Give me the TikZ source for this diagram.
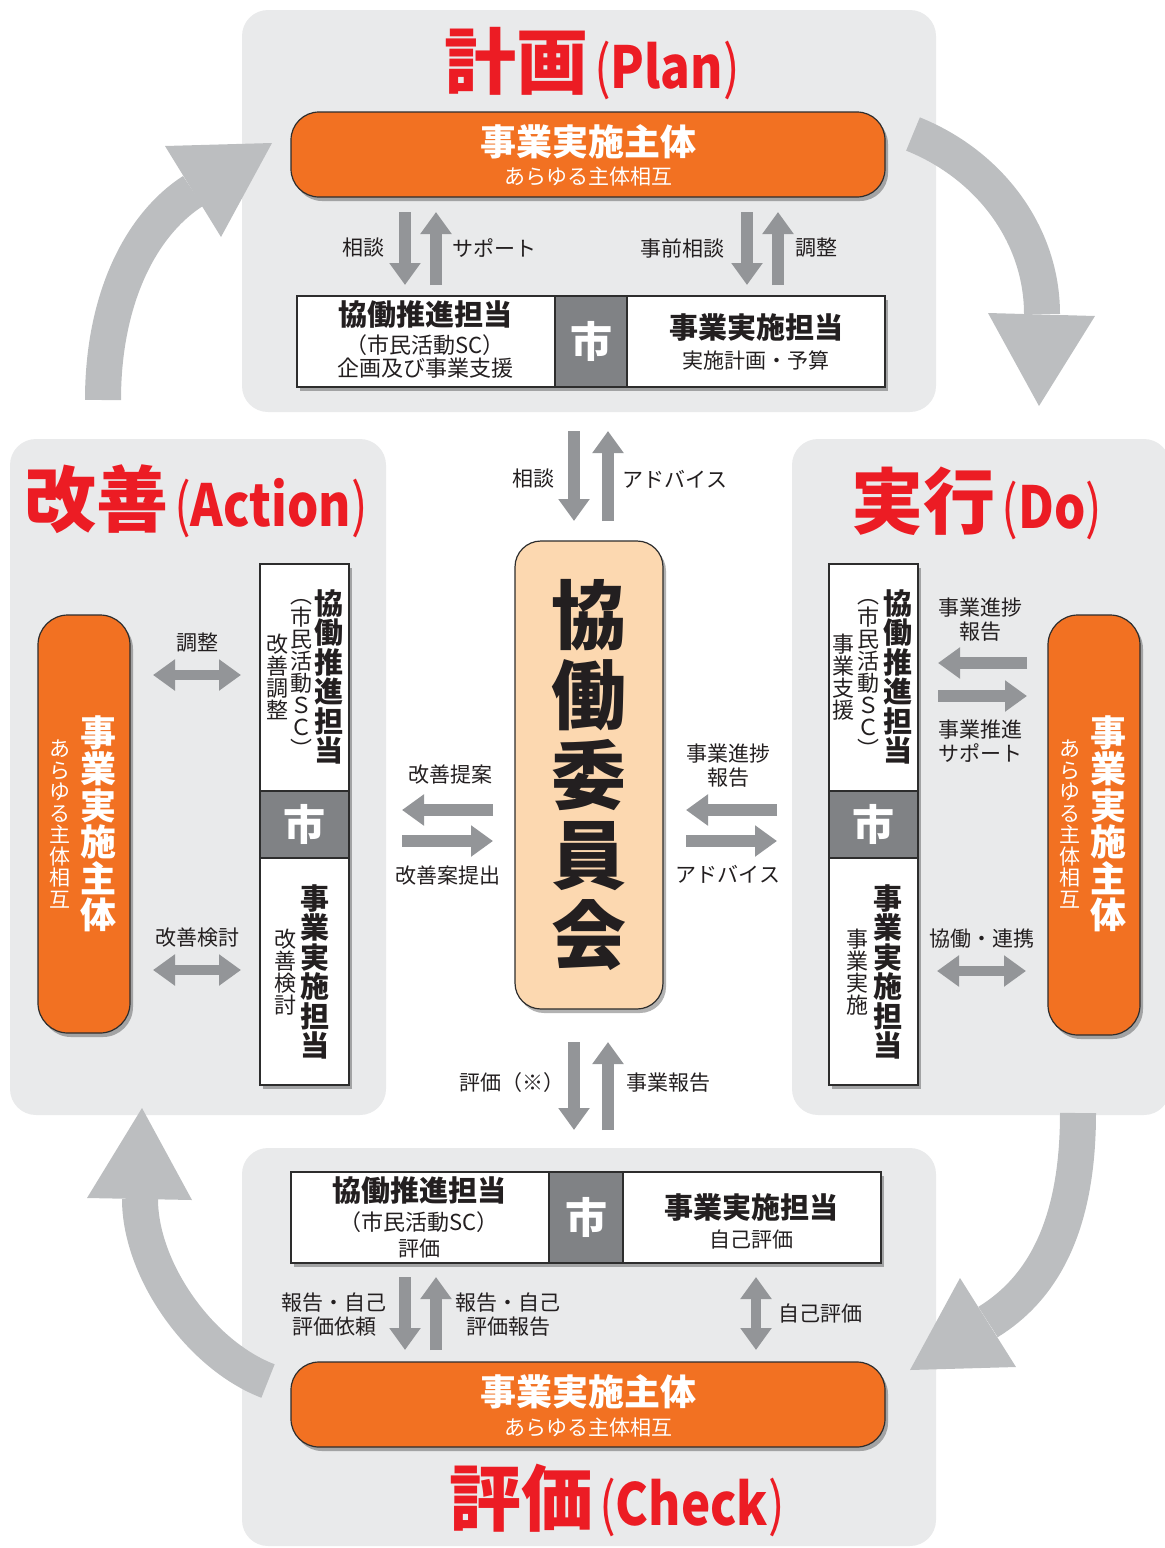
\documentclass[tikz,border=0pt]{standalone}
\usepackage{fontspec}
\setmainfont{Noto Sans CJK JP}
\usetikzlibrary{arrows.meta,shadows}
\definecolor{panelgray}{RGB}{233,234,235}
\definecolor{bigarrowc}{RGB}{188,190,192}
\definecolor{smallarrowc}{RGB}{147,149,152}
\definecolor{orangebox}{RGB}{242,113,34}
\definecolor{citygray}{RGB}{128,130,133}
\definecolor{titlered}{RGB}{236,28,36}
\definecolor{peach}{RGB}{252,216,176}
\definecolor{ink}{RGB}{35,31,32}
\definecolor{edgec}{RGB}{45,45,45}
\newcommand{\fsz}[2]{\fontsize{#1}{#2}\selectfont}
\newcommand{\ttlatin}[1]{\hspace{6pt}{\fsz{58}{58}\scalebox{0.85}[1]{\mdseries(\bfseries #1\mdseries)}}}
\begin{document}
\begin{tikzpicture}[x=1pt,y=-1pt,
  panel/.style={fill=panelgray, draw=none, rounded corners=26pt},
  shadowed/.style={drop shadow={shadow xshift=3pt, shadow yshift=-4pt, opacity=0.3, fill=black}},
  obox/.style={shadowed, fill=orangebox, draw=edgec, line width=1.2pt, rounded corners=28pt, inner sep=0pt},
  wbox/.style={shadowed, fill=white, draw=edgec, line width=1.2pt, inner sep=0pt},
  cbox/.style={fill=citygray, draw=edgec, line width=1.2pt, inner sep=0pt, text=white, font=\bfseries\fsz{42}{42}},
  pbox/.style={shadowed, fill=peach, draw=edgec, line width=1.2pt, rounded corners=26pt, inner sep=0pt, align=center, font=\bfseries\fsz{75}{80}, text=ink},
  sarrow/.style={draw=smallarrowc, line width=12pt, -{Triangle[length=22pt,width=30pt]}},
  darrow/.style={draw=smallarrowc, line width=10pt, {Triangle[length=22pt,width=30pt]}-{Triangle[length=22pt,width=30pt]}},
  lbl/.style={text=ink, font=\fsz{21}{24}, align=center, inner sep=0pt},
  txt/.style={inner sep=0pt, align=center},
  vt/.style={inner sep=0pt, align=center},
  bigshaft/.style={draw=bigarrowc, line width=36pt},
  bighead/.style={fill=bigarrowc, draw=none},
  ttl/.style={text=titlered, font=\bfseries\fsz{72}{72}, anchor=base, inner sep=0pt}
]
\useasboundingbox (0,0) rectangle (1165,1548);
% panels
\fill[panel] (242,10) rectangle (936,412);
\fill[panel] (10,439) rectangle (386,1115);
\fill[panel] (792,439) rectangle (1170,1115);
\fill[panel] (242,1148) rectangle (936,1546);

% big cycle arrows
\draw[bigshaft] (103,400) .. controls (103,300) and (140,225) .. (193,191);
\fill[bighead] (165,146) -- (272,143) -- (221,237) -- cycle;
\draw[bigshaft] (913,134) .. controls (990,165) and (1042,235) .. (1042,314);
\fill[bighead] (988,313) -- (1095,316) -- (1039,406) -- cycle;
\draw[bigshaft] (1078,1113) .. controls (1078,1230) and (1040,1290) .. (988,1322);
\fill[bighead] (960,1278) -- (1016,1367) -- (910,1370) -- cycle;
\draw[bigshaft] (268,1381) .. controls (200,1355) and (140,1270) .. (140,1199);
\fill[bighead] (87,1198) -- (192,1200) -- (142,1108) -- cycle;

% titles
\node[ttl] (tPlan) at (592,88) {計画\ttlatin{Plan}};
\node[ttl] (tAct) at (196,526) {改善\ttlatin{Action}};
\node[ttl] (tDo) at (977,528) {実行\ttlatin{Do}};
\node[ttl] (tChk) at (617,1525) {評価\ttlatin{Check}};

% ---------- Plan ----------
\node[obox, minimum width=594pt, minimum height=85pt] (pOrg) at (588,154.5) {};
\node[txt, text=white, font=\bfseries\fsz{36}{36}] (pOrgA) at (588,142) {事業実施主体};
\node[txt, text=white, font=\fsz{21}{21}] (pOrgB) at (588,177) {あらゆる主体相互};
\node[wbox, minimum width=588pt, minimum height=91pt] (pW) at (591,341.5) {};
\node[cbox, minimum width=72pt, minimum height=91pt] (pCity) at (591,341.5) {市};
\node[txt, text=ink, font=\bfseries\fsz{29}{29}] (pW1) at (425,315) {協働推進担当};
\node[txt, text=ink, font=\fsz{22}{22}] (pW2) at (425,345) {（市民活動SC）};
\node[txt, text=ink, font=\fsz{22}{22}] (pW3) at (425,368) {企画及び事業支援};
\node[txt, text=ink, font=\bfseries\fsz{29}{29}] (pW4) at (756,328) {事業実施担当};
\node[txt, text=ink, font=\fsz{21}{21}] (pW5) at (756,360) {実施計画・予算};
\draw[sarrow] (405,212) -- (405,285);
\draw[sarrow] (436,285) -- (436,212);
\draw[sarrow] (747,212) -- (747,285);
\draw[sarrow] (778,285) -- (778,212);
\node[lbl] (pl1) at (363,248) {相談};
\node[lbl] (pl2) at (494,248) {サポート};
\node[lbl] (pl3) at (682,248) {事前相談};
\node[lbl] (pl4) at (816,248) {調整};

% ---------- Center ----------
\node[pbox, minimum width=148pt, minimum height=468pt] (ctr) at (589,775) {協\\働\\委\\員\\会};
\draw[sarrow] (574,431) -- (574,521);
\draw[sarrow] (608,521) -- (608,431);
\node[lbl] (cl1) at (533,479) {相談};
\node[lbl] (cl2) at (675,479) {アドバイス};
\draw[sarrow] (493,810) -- (402,810);
\draw[sarrow] (402,841) -- (493,841);
\node[lbl] (cl3) at (450,775) {改善提案};
\node[lbl] (cl4) at (448,876) {改善案提出};
\draw[sarrow] (777,810) -- (686,810);
\draw[sarrow] (686,841) -- (777,841);
\node[lbl] (cl5) at (728,766) {事業進捗\\報告};
\node[lbl] (cl6) at (728,874) {アドバイス};
\draw[sarrow] (574,1042) -- (574,1130);
\draw[sarrow] (608,1130) -- (608,1042);
\node[lbl] (cl7) at (512,1083) {評価（※）};
\node[lbl] (cl8) at (668,1083) {事業報告};

% ---------- Action ----------
\node[obox, rounded corners=30pt, minimum width=92pt, minimum height=418pt] (aOrg) at (84,824) {};
\node[vt, text=white, font=\bfseries\fsz{36}{36.5}] (aOrgA) at (98,824) {事\\業\\実\\施\\主\\体};
\node[vt, text=white, font=\fsz{21}{21.5}] (aOrgB) at (60,824) {あ\\ら\\ゆ\\る\\主\\体\\相\\互};
\node[wbox, minimum width=89pt, minimum height=521pt] (aW) at (304.5,824.5) {};
\node[cbox, minimum width=89pt, minimum height=67pt] (aCity) at (304.5,824.5) {市};
\node[vt, text=ink, font=\bfseries\fsz{29}{29.5}] (aW1) at (329,677) {協\\働\\推\\進\\担\\当};
\node[vt, text=ink, font=\fsz{22}{22}] (aW2) at (301,678) {︵\\市\\民\\活\\動\\Ｓ\\Ｃ\\︶};
\node[vt, text=ink, font=\fsz{22}{22}] (aW3) at (277,677) {改\\善\\調\\整};
\node[vt, text=ink, font=\bfseries\fsz{29}{29.5}] (aW4) at (315,972) {事\\業\\実\\施\\担\\当};
\node[vt, text=ink, font=\fsz{22}{22}] (aW5) at (285,972) {改\\善\\検\\討};
\draw[darrow] (153,675) -- (241,675);
\draw[darrow] (153,970) -- (241,970);
\node[lbl] (al1) at (197,643) {調整};
\node[lbl] (al2) at (197,938) {改善検討};

% ---------- Do ----------
\node[obox, rounded corners=30pt, minimum width=92pt, minimum height=420pt] (dOrg) at (1094,825) {};
\node[vt, text=white, font=\bfseries\fsz{36}{36.5}] (dOrgA) at (1108,824) {事\\業\\実\\施\\主\\体};
\node[vt, text=white, font=\fsz{21}{21.5}] (dOrgB) at (1070,824) {あ\\ら\\ゆ\\る\\主\\体\\相\\互};
\node[wbox, minimum width=89pt, minimum height=521pt] (dW) at (873.5,824.5) {};
\node[cbox, minimum width=89pt, minimum height=67pt] (dCity) at (873.5,824.5) {市};
\node[vt, text=ink, font=\bfseries\fsz{29}{29.5}] (dW1) at (898,677) {協\\働\\推\\進\\担\\当};
\node[vt, text=ink, font=\fsz{22}{22}] (dW2) at (868,678) {︵\\市\\民\\活\\動\\Ｓ\\Ｃ\\︶};
\node[vt, text=ink, font=\fsz{22}{22}] (dW3) at (843,677) {事\\業\\支\\援};
\node[vt, text=ink, font=\bfseries\fsz{29}{29.5}] (dW4) at (888,972) {事\\業\\実\\施\\担\\当};
\node[vt, text=ink, font=\fsz{22}{22}] (dW5) at (857,972) {事\\業\\実\\施};
\draw[sarrow] (1027,663) -- (938,663);
\draw[sarrow] (938,696) -- (1027,696);
\draw[darrow] (937,971) -- (1026,971);
\node[lbl] (dl1) at (980,620) {事業進捗\\報告};
\node[lbl] (dl2) at (980,741) {事業推進\\サポート};
\node[lbl] (dl3) at (982,939) {協働・連携};

% ---------- Check ----------
\node[wbox, minimum width=590pt, minimum height=91pt] (kW) at (586,1217.5) {};
\node[cbox, minimum width=74pt, minimum height=91pt] (kCity) at (586,1217.5) {市};
\node[txt, text=ink, font=\bfseries\fsz{29}{29}] (kW1) at (419,1190) {協働推進担当};
\node[txt, text=ink, font=\fsz{22}{22}] (kW2) at (419,1222) {（市民活動SC）};
\node[txt, text=ink, font=\fsz{21}{21}] (kW3) at (419,1249) {評価};
\node[txt, text=ink, font=\bfseries\fsz{29}{29}] (kW4) at (751,1207) {事業実施担当};
\node[txt, text=ink, font=\fsz{21}{21}] (kW5) at (751,1239) {自己評価};
\node[obox, minimum width=594pt, minimum height=85pt] (kOrg) at (588,1404.5) {};
\node[txt, text=white, font=\bfseries\fsz{36}{36}] (kOrgA) at (588,1392) {事業実施主体};
\node[txt, text=white, font=\fsz{21}{21}] (kOrgB) at (588,1427) {あらゆる主体相互};
\draw[sarrow] (405,1277) -- (405,1350);
\draw[sarrow] (436,1350) -- (436,1277);
\draw[darrow] (756,1277) -- (756,1350);
\node[lbl] (kl1) at (334,1315) {報告・自己\\評価依頼};
\node[lbl] (kl2) at (508,1315) {報告・自己\\評価報告};
\node[lbl] (kl3) at (820,1313) {自己評価};
\end{tikzpicture}
\end{document}
